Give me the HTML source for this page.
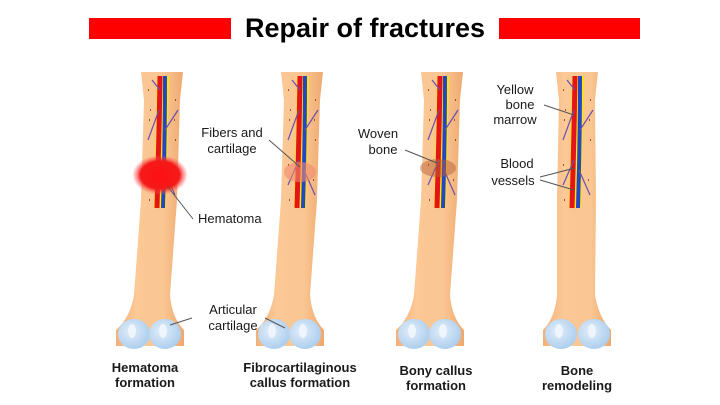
<!DOCTYPE html>
<html><head><meta charset="utf-8"><style>
html,body{margin:0;padding:0;background:#fff}
svg{display:block}
text{font-family:"Liberation Sans",sans-serif;fill:#1a1a1a}
.l{font-size:13px}
.b{font-size:13px;font-weight:bold}
</style></head><body>
<svg width="720" height="405" viewBox="0 0 720 405">
<defs>
<linearGradient id="bg" x1="0" x2="1">
<stop offset="0" stop-color="#f2b079"/><stop offset="0.3" stop-color="#fbc896"/><stop offset="0.7" stop-color="#fac692"/><stop offset="1" stop-color="#eea86f"/>
</linearGradient>
<radialGradient id="cg" cx="0.4" cy="0.4" r="0.7">
<stop offset="0" stop-color="#e2eefa"/><stop offset="1" stop-color="#a6caec"/>
</radialGradient>
<radialGradient id="hem" cx="0.5" cy="0.5" r="0.5">
<stop offset="0" stop-color="#ff1010"/><stop offset="0.7" stop-color="#f41a1a"/><stop offset="1" stop-color="#ff6060" stop-opacity="0"/>
</radialGradient>
<g id="marrow">
<path d="M-5,76 L7,76 L4,208 L-8,208 Z" fill="#ffe600"/>
<path d="M-2,76 Q-3,140 -5,208" stroke="#e3151a" stroke-width="5" fill="none"/>
<path d="M3,76 Q3,140 1,208" stroke="#2345c8" stroke-width="4" fill="none"/>
<path d="M-3,110 L-14,140 M3,130 L16,110 M-3,160 L-14,185 M2,170 L13,195 M-2,90 L-10,80" stroke="#6a4fb0" stroke-width="1.2" fill="none"/>
<path d="M-14,90 l1,0 M13,100 l1,0 M-13,120 l1,0 M13,140 l1,0 M-14,165 l1,0 M11,180 l1,0 M-13,200 l1,0 M-12,110 l1,0 M12,120 l1,0" stroke="#a0522d" stroke-width="2"/>
</g>
<g id="bone">
<path d="M-21,72 L21,72 L18,100 L15,200 L8,295 Q10,318 22,330 L22,346 L-46,346 L-46,330 Q-32,318 -28,295 L-21,200 L-18,100 Z" fill="url(#bg)"/>
<ellipse cx="-28" cy="334" rx="16" ry="15" fill="url(#cg)"/>
<ellipse cx="3" cy="334" rx="16" ry="15" fill="url(#cg)"/>
<ellipse cx="-30" cy="331" rx="4" ry="7" fill="#eef5fc"/>
<ellipse cx="1" cy="331" rx="4" ry="7" fill="#eef5fc"/>
<use href="#marrow"/>
</g>
<g id="bone4">
<path d="M-21,72 L21,72 L18,100 L19,200 L18,295 Q22,318 34,330 L34,346 L-34,346 L-34,330 Q-22,318 -20,295 L-20,200 L-18,100 Z" fill="url(#bg)"/>
<ellipse cx="-16" cy="334" rx="16" ry="15" fill="url(#cg)"/>
<ellipse cx="17" cy="334" rx="16" ry="15" fill="url(#cg)"/>
<ellipse cx="-18" cy="331" rx="4" ry="7" fill="#eef5fc"/>
<ellipse cx="15" cy="331" rx="4" ry="7" fill="#eef5fc"/>
<use href="#marrow"/>
</g>
</defs>

<rect x="89" y="18" width="142" height="21" fill="#ff0000"/>
<rect x="499" y="18" width="141" height="21" fill="#ff0000"/>
<text x="365" y="37" text-anchor="middle" style="font-size:27px;font-weight:bold;fill:#000">Repair of  fractures</text>

<use href="#bone" x="162"/>
<ellipse cx="160" cy="175" rx="28" ry="20" fill="url(#hem)"/>
<use href="#bone" x="302"/>
<ellipse cx="300" cy="172" rx="16" ry="10" fill="#f08a70" opacity="0.6"/>
<use href="#bone" x="442"/>
<ellipse cx="438" cy="168" rx="18" ry="9" fill="#b8603a" opacity="0.5"/>
<use href="#bone4" x="577"/>

<g stroke="#555" stroke-width="1" fill="none">
<line x1="168" y1="187" x2="193" y2="219"/>
<line x1="269" y1="140" x2="300" y2="167"/>
<line x1="405" y1="150" x2="437" y2="163"/>
<line x1="544" y1="105" x2="574" y2="115"/>
<line x1="540" y1="177" x2="575" y2="168"/>
<line x1="540" y1="180" x2="574" y2="190"/>
<line x1="170" y1="325" x2="192" y2="318"/>
<line x1="265" y1="318" x2="285" y2="328"/>
</g>
<text class="l" x="198" y="223">Hematoma</text>
<text class="l" x="232" y="137" text-anchor="middle">Fibers and</text>
<text class="l" x="232" y="153" text-anchor="middle">cartilage</text>
<text class="l" x="378" y="138" text-anchor="middle">Woven</text>
<text class="l" x="383" y="154" text-anchor="middle">bone</text>
<text class="l" x="515" y="94" text-anchor="middle">Yellow</text>
<text class="l" x="520" y="109" text-anchor="middle">bone</text>
<text class="l" x="515" y="124" text-anchor="middle">marrow</text>
<text class="l" x="517" y="168" text-anchor="middle">Blood</text>
<text class="l" x="513" y="185" text-anchor="middle">vessels</text>
<text class="l" x="233" y="314" text-anchor="middle">Articular</text>
<text class="l" x="233" y="330" text-anchor="middle">cartilage</text>

<text class="b" x="145" y="372" text-anchor="middle">Hematoma</text>
<text class="b" x="145" y="387" text-anchor="middle">formation</text>
<text class="b" x="300" y="372" text-anchor="middle">Fibrocartilaginous</text>
<text class="b" x="300" y="387" text-anchor="middle">callus formation</text>
<text class="b" x="436" y="375" text-anchor="middle">Bony callus</text>
<text class="b" x="436" y="390" text-anchor="middle">formation</text>
<text class="b" x="577" y="375" text-anchor="middle">Bone</text>
<text class="b" x="577" y="390" text-anchor="middle">remodeling</text>
</svg>
</body></html>
